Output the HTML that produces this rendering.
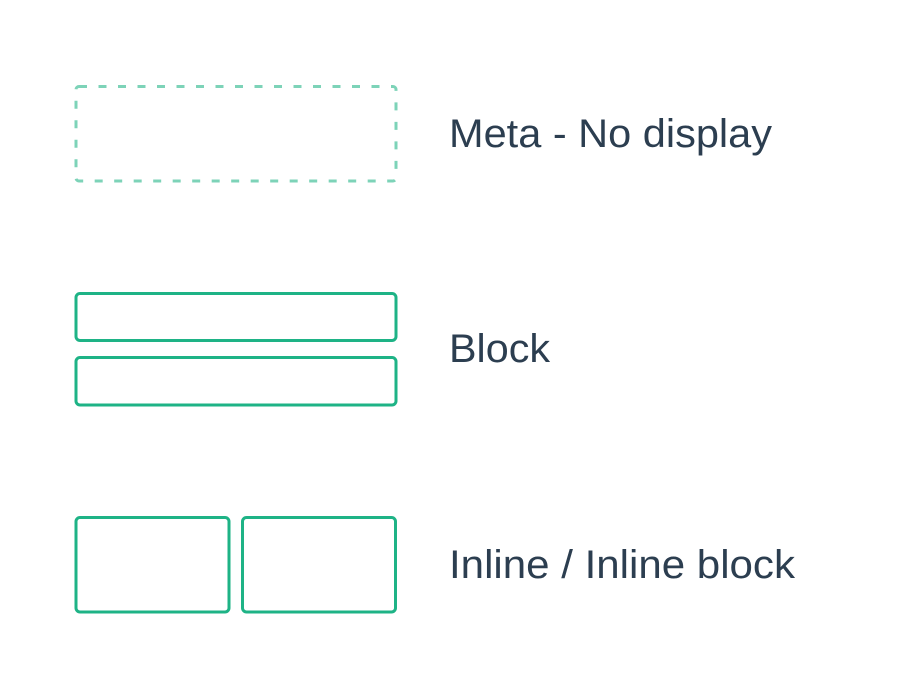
<!DOCTYPE html>
<html><head><meta charset="utf-8"><style>html,body{margin:0;padding:0;background:#fff}svg{display:block}</style></head>
<body>
<svg width="900" height="700" viewBox="0 0 900 700" xmlns="http://www.w3.org/2000/svg">
<rect x="76" y="86.5" width="320" height="94.5" rx="3" fill="none" stroke="#7dd3b8" stroke-width="3" stroke-dasharray="8 11.5"/>
<g fill="none" stroke="#1eb386" stroke-width="3">
<rect x="76" y="293.5" width="320" height="47" rx="4"/>
<rect x="76" y="357.5" width="320" height="47.5" rx="4"/>
<rect x="76" y="517.5" width="153" height="94.5" rx="4"/>
<rect x="242.5" y="517.5" width="153" height="94.5" rx="4"/>
</g>
<g font-family="Liberation Sans, sans-serif" font-size="40" fill="#2c3e50">
<text x="449" y="147" textLength="323" lengthAdjust="spacingAndGlyphs">Meta - No display</text>
<text x="449" y="362" textLength="101" lengthAdjust="spacingAndGlyphs">Block</text>
<text x="449" y="578" textLength="346" lengthAdjust="spacingAndGlyphs">Inline / Inline block</text>
</g>
</svg>
</body></html>
